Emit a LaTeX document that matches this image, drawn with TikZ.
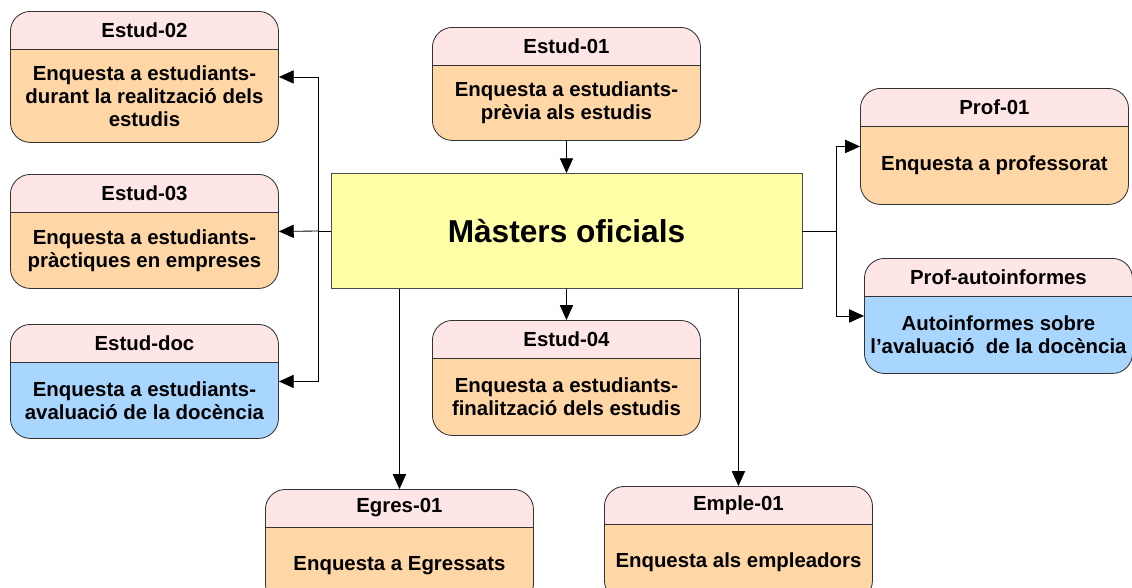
\documentclass[tikz,border=0pt]{standalone}
\usepackage{fontspec}
\setmainfont{Liberation Sans}
\usepackage{tikz}
\usetikzlibrary{
  positioning,
  calc,
  arrows.meta
}
\definecolor{headpink}{HTML}{FFE6E6}
\definecolor{bodypeach}{HTML}{FFD6A6}
\definecolor{bodyblue}{HTML}{A8D6FF}
\definecolor{masteryellow}{HTML}{FFFFA8}
\tikzstyle{arr}=[-{Triangle[length=0.37cm, width=0.33cm]}, line width=0.6pt]
\tikzstyle{survey}=[draw=black!80, line width=0.6pt, rounded corners=0.5cm,
  minimum width=6.7cm, inner sep=0pt,
  path picture={
    \fill[headpink, sharp corners] (path picture bounding box.north west)
      rectangle ([yshift=-0.95cm]path picture bounding box.north east);
    \draw[black!80, line width=0.6pt] ([yshift=-0.95cm]path picture bounding box.north west)
      -- ([yshift=-0.95cm]path picture bounding box.north east);
  }]
\tikzstyle{headtext}=[font=\fontsize{14.5}{16.4}\selectfont\bfseries, inner sep=0pt]
\tikzstyle{bodytext}=[font=\fontsize{14.5}{16.4}\selectfont\bfseries, align=center, inner sep=0pt]
\tikzstyle{master}=[draw=black!70, line width=0.6pt, fill=masteryellow,
  minimum width=11.775cm, minimum height=2.875cm,
  font=\fontsize{22.5}{26}\selectfont\bfseries]

% name, position, height, colour, header, body
\newcommand{\surveybox}[6]{%
  \node[survey, fill=#4, minimum height=#3, anchor=north west] (#1) at #2 {};
  \node[headtext] (#1-h) at ([yshift=-0.475cm]#1.north) {#5};
  \node[bodytext] (#1-b) at ($([yshift=-0.95cm]#1.north)!0.5!(#1.south)$) {#6};
}

\begin{document}
\begin{tikzpicture}[x=0.025cm, y=-0.025cm]
    \useasboundingbox (0,0) rectangle (1132,587);

    % centre
    \node[master] (master) at (566.5,231) {Màsters oficials};

    % enquestes a estudiants
    \surveybox{estud02}{(10,11)}{3.275cm}{bodypeach}{Estud-02}{Enquesta a estudiants-\\durant la realització dels\\estudis}
    \surveybox{estud03}{(10,174)}{2.85cm}{bodypeach}{Estud-03}{Enquesta a estudiants-\\pràctiques en empreses}
    \surveybox{estuddoc}{(10,324)}{2.85cm}{bodyblue}{Estud-doc}{Enquesta a estudiants-\\avaluació de la docència}
    \surveybox{estud01}{(432,27)}{2.825cm}{bodypeach}{Estud-01}{Enquesta a estudiants-\\prèvia als estudis}
    \surveybox{estud04}{(432,320)}{2.875cm}{bodypeach}{Estud-04}{Enquesta a estudiants-\\finalització dels estudis}

    % professorat
    \surveybox{prof01}{(860,88)}{2.9cm}{bodypeach}{Prof-01}{Enquesta a professorat}
    \surveybox{profauto}{(864,258)}{2.875cm}{bodyblue}{Prof-autoinformes}{Autoinformes sobre\\l’avaluació\ \ de la docència}

    % egressats i empleadors
    \surveybox{egres01}{(265,489)}{2.85cm}{bodypeach}{Egres-01}{Enquesta a Egressats}
    \surveybox{emple01}{(604,486)}{2.85cm}{bodypeach}{Emple-01}{Enquesta als empleadors}

    % connexions
    \coordinate (lbus) at (318,231);
    \coordinate (rbus) at (836,231);
    \draw[line width=0.6pt] (master.west) -- (lbus);
    \draw[arr] (lbus) |- (estud02.east);
    \draw[arr] (lbus) -- (estud03.east);
    \draw[arr] (lbus) |- (estuddoc.east);
    \draw[line width=0.6pt] (master.east) -- (rbus);
    \draw[arr] (rbus) |- (prof01.west);
    \draw[arr] (rbus) |- (profauto.west);
    \draw[arr] (estud01.south) -- (master.north);
    \draw[arr] (master.south) -- (estud04.north);
    \draw[arr] (master.south -| egres01.north) -- (egres01.north);
    \draw[arr] (master.south -| emple01.north) -- (emple01.north);
\end{tikzpicture}
\end{document}
